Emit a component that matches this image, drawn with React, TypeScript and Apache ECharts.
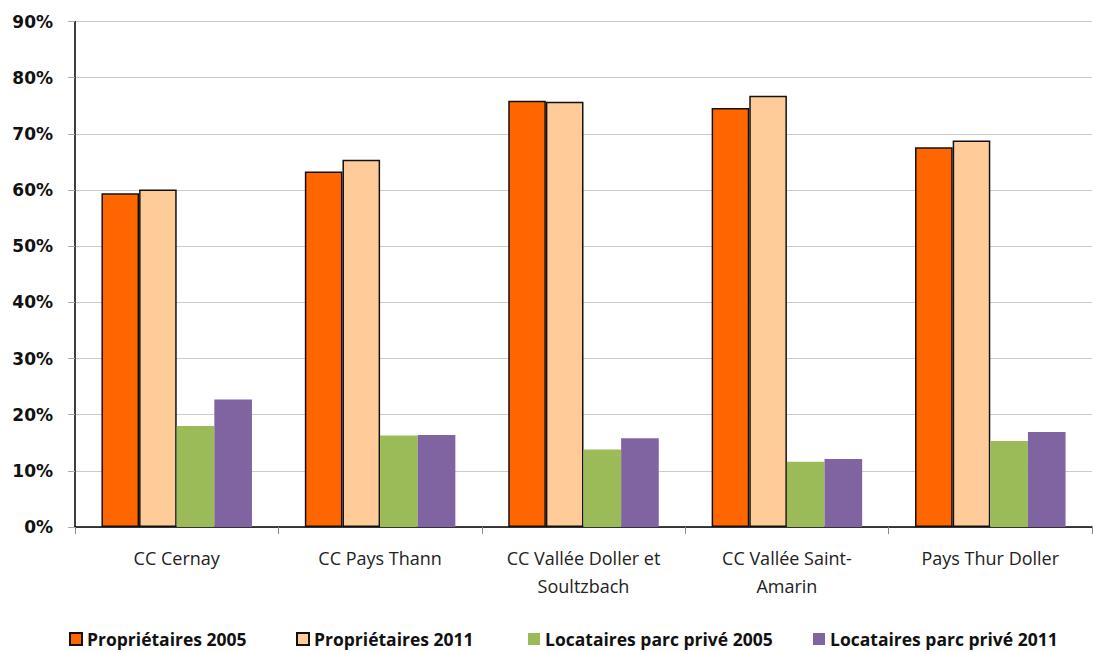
import React, { useEffect, useRef } from "react";
import * as echarts from "echarts";

// Territories on the category axis
const categories = [
  "CC Cernay",
  "CC Pays Thann",
  "CC Vallée Doller et\nSoultzbach",
  "CC Vallée Saint-\nAmarin",
  "Pays Thur Doller",
];

// Share of households by occupancy status (%)
const proprietaires2005 = [59.4, 63.3, 75.9, 74.6, 67.6];
const proprietaires2011 = [60.1, 65.4, 75.7, 76.8, 68.8];
const locataires2005 = [18.0, 16.3, 13.8, 11.6, 15.3];
const locataires2011 = [22.7, 16.4, 15.8, 12.1, 16.9];

const seriesNames = [
  "Propriétaires 2005",
  "Propriétaires 2011",
  "Locataires parc privé 2005",
  "Locataires parc privé 2011",
];

const colors = ["#FF6600", "#FFCC99", "#9BBB59", "#8064A2"];
const legendLefts = [69, 296, 528, 813];

export default function App() {
  const ref = useRef<HTMLDivElement>(null);

  useEffect(() => {
    if (!ref.current) return;
    const chart = echarts.init(ref.current, undefined, { renderer: "svg" });
    const values = [proprietaires2005, proprietaires2011, locataires2005, locataires2011];

    chart.setOption({
      animation: false,
      backgroundColor: "#ffffff",
      grid: { left: 75, right: 1, top: 21.5, bottom: 125, containLabel: false },
      legend: seriesNames.map((name, i) => ({
        data: [name],
        left: legendLefts[i],
        top: 630,
        padding: 0,
        itemWidth: 12,
        itemHeight: 12,
        itemGap: 6,
        icon: "rect",
        textStyle: {
          fontFamily: "Open Sans",
          fontWeight: "bold",
          fontSize: 17.5,
          lineHeight: 18,
          color: "#111",
        },
      })),
      xAxis: {
        type: "category",
        data: categories,
        axisLine: { lineStyle: { color: "#000", width: 1.5 } },
        axisTick: { show: true, length: 7, lineStyle: { color: "#888" } },
        axisLabel: {
          fontFamily: "Open Sans",
          fontSize: 18,
          lineHeight: 28,
          color: "#222",
          margin: 17,
          interval: 0,
        },
      },
      yAxis: {
        type: "value",
        min: 0,
        max: 90,
        interval: 10,
        axisLine: { show: true, lineStyle: { color: "#000", width: 1.5 } },
        axisTick: { show: true, length: 7, lineStyle: { color: "#aaa" } },
        splitLine: { lineStyle: { color: "#cccccc", width: 1 } },
        axisLabel: {
          formatter: "{value}%",
          fontFamily: "DejaVu Sans",
          fontWeight: "bold",
          fontSize: 17,
          color: "#111",
          margin: 22,
        },
      },
      series: seriesNames.map((name, i) => ({
        name,
        type: "bar",
        data: values[i],
        barGap: "0%",
        barCategoryGap: "26%",
        itemStyle: {
          color: colors[i],
          borderColor: i < 2 ? "#111" : colors[i],
          borderWidth: i < 2 ? 1.5 : 0,
        },
      })),
    });

    return () => chart.dispose();
  }, []);

  return (
    <div
      ref={ref}
      style={{ position: "fixed", left: 0, top: 0, width: 1093, height: 652 }}
    />
  );
}
